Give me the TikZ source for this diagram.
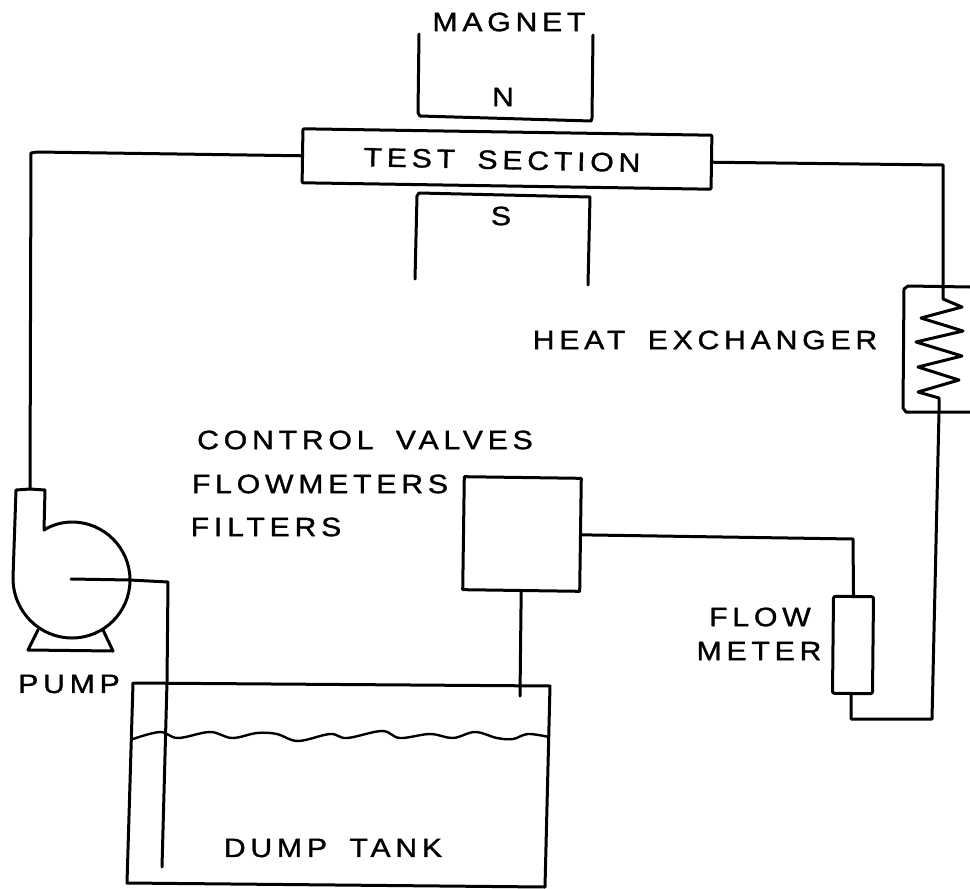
\documentclass[tikz,border=0pt]{standalone}
\usepackage{fontspec}
\setmainfont[LetterSpace=18,FakeBold=1.2,FakeStretch=1.14,WordSpace=1.7]{Liberation Sans}
\begin{document}
\begin{tikzpicture}[x=1pt,y=-1pt,line join=round,line cap=round,
  ln/.style={draw=black,line width=3pt},
  lbl/.style={font=\fontsize{26.5}{29}\selectfont,text=black,inner sep=0pt,anchor=center}]
\useasboundingbox (0,0) rectangle (970,889);
\coordinate (hetop) at (943,287); \coordinate (hebot) at (939,412);
% test section
\node[ln,minimum width=409pt,minimum height=54pt,inner sep=0pt,rotate=-0.9,rounded corners=1pt] (ts) at (507,159) {};
\node[lbl,rotate=-1.2] (tst) at (502,160) {TEST SECTION};
\node[lbl] (mag) at (509,22) {MAGNET};
\node[lbl] (n) at (503,97) {N};
\node[lbl] (s) at (501,216) {S};
\node[lbl] (he) at (705,340) {HEAT EXCHANGER};
\node[lbl] (cv) at (365,440) {CONTROL VALVES};
\node[lbl] (fm1) at (320,484) {FLOWMETERS};
\node[lbl] (fl) at (266,527) {FILTERS};
\node[lbl] (fl2) at (760,617) {FLOW};
\node[lbl] (mt) at (759,651) {METER};
\node[lbl] (pu) at (69,684) {PUMP};
\node[lbl] (dt) at (333,848) {DUMP TANK};
% magnet
\draw[ln] (419,34) -- (418,113) -- (420,116) -- (591,121) -- (592,118) -- (593,35);
\draw[ln] (415,279) -- (417,196) -- (419,193) -- (590,197) -- (588,285);
% loop
\draw[ln] (ts.west) -- (37,152) -- (31,153) -- (30,489);
\draw[ln] (ts.east) -- (943,165) -- (hetop);
% heat exchanger
\draw[ln] (970,287) -- (908,286) -- (904,289) -- (903,408) -- (906,412) -- (970,412);
\draw[ln] (hetop) -- (943,299) -- (962,307) -- (921,318) -- (963,331) -- (916,342) -- (962,356) -- (918,367) -- (959,380) -- (918,392) -- (939,398) -- (hebot);
\draw[ln] (hebot) -- (932,719) -- (851,719) -- (851,694);
% flow meter
\node[ln,minimum width=40pt,minimum height=97pt,inner sep=0pt,rounded corners=2pt,rotate=-0.6] (fm) at (853,645) {};
% control box
\node[ln,minimum width=117pt,minimum height=113pt,inner sep=0pt,rotate=-0.8] (cb) at (522,534) {};
\draw[ln] (cb.east) -- (853,539) -- (fm.north);
\draw[ln] (cb.south) -- (520,696);
% pump
\draw[ln] (30,489) -- (16,490) -- (13,578) .. controls (13,612) and (40,638) .. (72,638)
  .. controls (104,638) and (130,612) .. (130,580)
  .. controls (130,548) and (104,522) .. (72,522)
  .. controls (62,522) and (52,525) .. (44,530) -- (45,490) -- (30,489);
\draw[ln] (71,579) -- (130,580) -- (168,582) -- (167,682) -- (162,867);
\draw[ln] (38,630) -- (28,650) -- (113,651) -- (103,630);
% tank
\draw[ln] (133,683) -- (127,883) -- (545,887) -- (550,686) -- cycle;
\draw[ln,line width=2.4pt] plot[smooth,tension=0.6] coordinates {(133,739) (160,732) (178,738) (210,732) (232,738) (257,733) (277,734) (298,741) (330,734) (347,738) (382,731) (400,738) (430,734) (453,738) (475,732) (497,738) (513,739) (528,734) (549,737)};
\end{tikzpicture}
\end{document}
